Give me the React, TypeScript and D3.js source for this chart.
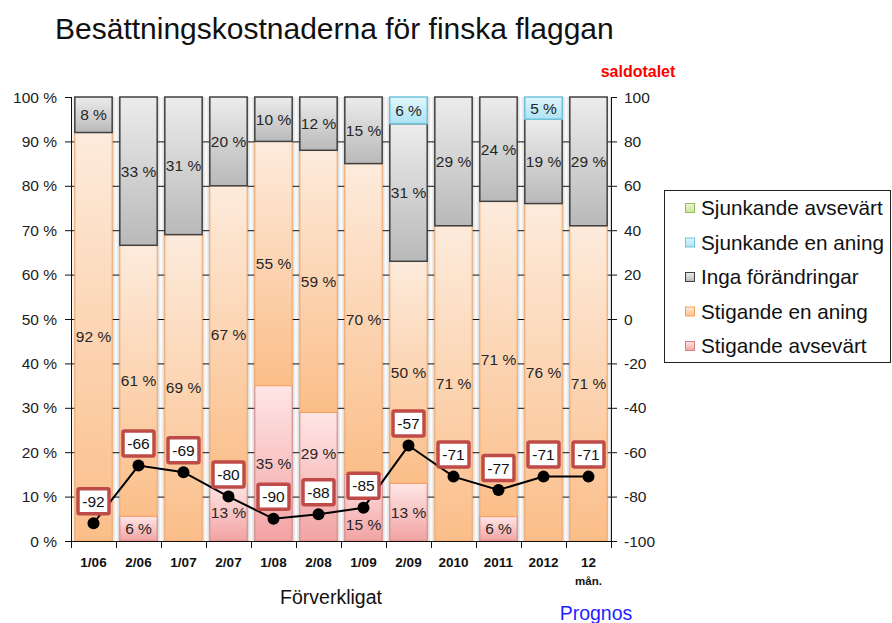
import { useEffect, useRef } from 'react';
import * as d3 from 'd3';

const categories = ['1/06', '2/06', '1/07', '2/07', '1/08', '2/08', '1/09', '2/09', '2010', '2011', '2012', '12 mån.'];
// stacked shares (%), bottom to top
const stigandeAvsevart = [0, 5.6, 0, 13, 35, 29, 15, 13, 0, 5.5, 0, 0];
const stigandeEnAning = [92, 61, 69, 67, 55, 59, 70, 50, 71, 71, 76, 71];
const ingaForandringar = [8, 33.4, 31, 20, 10, 12, 15, 31, 29, 23.5, 19, 29];
const sjunkandeEnAning = [0, 0, 0, 0, 0, 0, 0, 6, 0, 0, 5, 0];
const sjunkandeAvsevart = [0, 0, 0, 0, 0, 0, 0, 0, 0, 0, 0, 0];
// balance figure, right axis
const saldotalet = [-92, -66, -69, -80, -90, -88, -85, -57, -71, -77, -71, -71];

const leftTicks = [0, 10, 20, 30, 40, 50, 60, 70, 80, 90, 100];
const rightTicks = [-100, -80, -60, -40, -20, 0, 20, 40, 60, 80, 100];

const series = [
  { key: 'sa', name: 'Stigande avsevärt', values: stigandeAvsevart, top: '#FFE6E6', bottom: '#F2A3A3', stroke: '#D88080', sw: 1 },
  { key: 'se', name: 'Stigande en aning', values: stigandeEnAning, top: '#FDEBDC', bottom: '#FBBE89', stroke: '#F7A35E', sw: 1 },
  { key: 'if', name: 'Inga förändringar', values: ingaForandringar, top: '#ECECEC', bottom: '#B9B9B9', stroke: '#404040', sw: 1.5 },
  { key: 'je', name: 'Sjunkande en aning', values: sjunkandeEnAning, top: '#E2F6FC', bottom: '#ADE3F3', stroke: '#6EC5DD', sw: 1.5 },
  { key: 'ja', name: 'Sjunkande avsevärt', values: sjunkandeAvsevart, top: '#EAF7D4', bottom: '#C7E79B', stroke: '#9BBB59', sw: 1 },
];

const W = 892;
const H = 623;
const FONT = 'Arial, "Liberation Sans", Helvetica, sans-serif';

const App = () => {
  const svgRef = useRef<SVGSVGElement | null>(null);

  useEffect(() => {
    const svg = d3.select(svgRef.current);
    svg.selectAll('*').remove();

    const left = 71, right = 611, top = 97, bottom = 541;

    const x = d3.scaleBand<string>().domain(categories).range([left, right]).paddingInner(0.17).paddingOuter(0.085);
    const y = d3.scaleLinear().domain([0, 100]).range([bottom, top]);
    const y2 = d3.scaleLinear().domain([-100, 100]).range([bottom, top]);
    const bw = x.bandwidth();

    const defs = svg.append('defs');
    series.forEach(s => {
      const g = defs.append('linearGradient').attr('id', `grad-${s.key}`)
        .attr('x1', 0).attr('y1', 0).attr('x2', 0).attr('y2', 1);
      g.append('stop').attr('offset', '0%').attr('stop-color', s.top);
      g.append('stop').attr('offset', '100%').attr('stop-color', s.bottom);
    });
    const gap = defs.append('linearGradient').attr('id', 'gap-grad')
      .attr('x1', 0).attr('y1', 0).attr('x2', 1).attr('y2', 0);
    gap.append('stop').attr('offset', '0%').attr('stop-color', '#cfcfcf');
    gap.append('stop').attr('offset', '50%').attr('stop-color', '#ffffff');
    gap.append('stop').attr('offset', '100%').attr('stop-color', '#cfcfcf');

    // title
    svg.append('text')
      .attr('x', 55).attr('y', 39)
      .attr('font-family', FONT).attr('font-size', 30)
      .attr('fill', '#111')
      .text('Besättningskostnaderna för finska flaggan');

    svg.append('text')
      .attr('x', 638).attr('y', 77)
      .attr('text-anchor', 'middle')
      .attr('font-family', FONT).attr('font-size', 16).attr('font-weight', 'bold')
      .attr('fill', '#FF0000')
      .text('saldotalet');

    // shaded gaps between bars
    const gapRects: [number, number][] = [];
    gapRects.push([left, x(categories[0])!]);
    for (let i = 1; i < categories.length; i++) {
      gapRects.push([x(categories[i - 1])! + bw, x(categories[i])!]);
    }
    gapRects.push([x(categories[categories.length - 1])! + bw, right]);
    svg.append('g').selectAll('rect').data(gapRects).enter().append('rect')
      .attr('x', d => d[0]).attr('y', top).attr('width', d => d[1] - d[0]).attr('height', bottom - top)
      .attr('fill', 'url(#gap-grad)');

    // gridlines
    svg.append('g').selectAll('line').data(leftTicks.filter(t => t > 0 && t < 100)).enter().append('line')
      .attr('x1', left).attr('x2', right)
      .attr('y1', d => y(d) + 0.5).attr('y2', d => y(d) + 0.5)
      .attr('stroke', '#111').attr('stroke-width', 1);

    // stacked bars
    const table = categories.map((c, i) => {
      const row: Record<string, any> = { cat: c };
      series.forEach(s => { row[s.key] = s.values[i]; });
      return row;
    });
    const stack = d3.stack<Record<string, any>>().keys(series.map(s => s.key));
    const stacked = stack(table);

    stacked.forEach((layer, li) => {
      const s = series[li];
      const g = svg.append('g');
      layer.forEach((d, i) => {
        const v = d[1] - d[0];
        if (v <= 0) return;
        g.append('rect')
          .attr('x', x(categories[i])!)
          .attr('y', y(d[1]))
          .attr('width', bw)
          .attr('height', y(d[0]) - y(d[1]))
          .attr('fill', `url(#grad-${s.key})`)
          .attr('stroke', s.stroke)
          .attr('stroke-width', s.sw);
      });
    });

    // saldo label boxes (vertical extents) used to keep segment labels clear
    const boxH = 25;
    const boxCy = saldotalet.map(v => y2(v) - 22);

    // segment labels
    stacked.forEach(layer => {
      layer.forEach((d, i) => {
        const v = d[1] - d[0];
        if (v <= 0) return;
        const segTop = y(d[1]);
        const segBot = y(d[0]);
        let ly = (segTop + segBot) / 2;
        const bTop = boxCy[i] - boxH / 2 - 2;
        const bBot = boxCy[i] + boxH / 2 + 2;
        if (ly + 8 > bTop && ly - 8 < bBot) {
          if (bTop - segTop > 24) ly = (segTop + bTop) / 2 + 8;
          else ly = (bBot + segBot) / 2 + 4;
        }
        svg.append('text')
          .attr('x', x(categories[i])! + bw / 2)
          .attr('y', ly)
          .attr('dy', '0.36em')
          .attr('text-anchor', 'middle')
          .attr('font-family', FONT).attr('font-size', 15.5)
          .attr('fill', '#262626')
          .text(`${Math.round(v)} %`);
      });
    });

    // left axis
    const la = svg.append('g');
    la.append('line').attr('x1', left + 0.5).attr('x2', left + 0.5).attr('y1', top).attr('y2', bottom).attr('stroke', '#111');
    leftTicks.forEach(t => {
      la.append('line').attr('x1', left - 6).attr('x2', left).attr('y1', y(t) + 0.5).attr('y2', y(t) + 0.5).attr('stroke', '#111');
      la.append('text')
        .attr('x', 57).attr('y', y(t)).attr('dy', '0.36em')
        .attr('text-anchor', 'end')
        .attr('font-family', FONT).attr('font-size', 15.5).attr('fill', '#222')
        .text(`${t} %`);
    });

    // right axis
    const ra = svg.append('g');
    ra.append('line').attr('x1', right + 0.5).attr('x2', right + 0.5).attr('y1', top).attr('y2', bottom).attr('stroke', '#111');
    rightTicks.forEach(t => {
      ra.append('line').attr('x1', right).attr('x2', right + 6).attr('y1', y2(t) + 0.5).attr('y2', y2(t) + 0.5).attr('stroke', '#111');
      ra.append('text')
        .attr('x', 624).attr('y', y2(t)).attr('dy', '0.36em')
        .attr('font-family', FONT).attr('font-size', 15.5).attr('fill', '#222')
        .text(t);
    });

    // bottom axis
    const ba = svg.append('g');
    ba.append('line').attr('x1', left).attr('x2', right + 1).attr('y1', bottom + 0.5).attr('y2', bottom + 0.5).attr('stroke', '#111');
    const step = x.step();
    d3.range(categories.length + 1).forEach(k => {
      const xx = Math.round(left + k * step) + 0.5;
      ba.append('line').attr('x1', xx).attr('x2', xx).attr('y1', bottom).attr('y2', bottom + 7).attr('stroke', '#111');
    });
    categories.forEach(c => {
      const parts = c.split(' ');
      const cx = x(c)! + bw / 2;
      ba.append('text')
        .attr('x', cx).attr('y', 567)
        .attr('text-anchor', 'middle')
        .attr('font-family', FONT).attr('font-size', 13.5).attr('font-weight', 'bold').attr('fill', '#111')
        .text(parts[0]);
      if (parts[1]) {
        ba.append('text')
          .attr('x', cx).attr('y', 585)
          .attr('text-anchor', 'middle')
          .attr('font-family', FONT).attr('font-size', 11.5).attr('font-weight', 'bold').attr('fill', '#111')
          .text(parts[1]);
      }
    });

    svg.append('text')
      .attr('x', 331).attr('y', 604)
      .attr('text-anchor', 'middle')
      .attr('font-family', FONT).attr('font-size', 19.5).attr('fill', '#111')
      .text('Förverkligat');
    svg.append('text')
      .attr('x', 596).attr('y', 620)
      .attr('text-anchor', 'middle')
      .attr('font-family', FONT).attr('font-size', 19.5).attr('fill', '#1F1FFF')
      .text('Prognos');

    // saldotalet line
    const pts = saldotalet.map((v, i) => [x(categories[i])! + bw / 2, y2(v)] as [number, number]);
    svg.append('path')
      .attr('d', d3.line()(pts)!)
      .attr('fill', 'none').attr('stroke', '#000').attr('stroke-width', 2);
    svg.append('g').selectAll('circle').data(pts).enter().append('circle')
      .attr('cx', d => d[0]).attr('cy', d => d[1]).attr('r', 6).attr('fill', '#000');

    const lab = svg.append('g');
    saldotalet.forEach((v, i) => {
      const [px] = pts[i];
      const cy = boxCy[i];
      lab.append('rect')
        .attr('x', px - 15.5).attr('y', cy - boxH / 2).attr('width', 31).attr('height', boxH)
        .attr('rx', 1.5)
        .attr('fill', '#fff').attr('stroke', '#BE4B48').attr('stroke-width', 3.5);
      lab.append('text')
        .attr('x', px).attr('y', cy).attr('dy', '0.36em')
        .attr('text-anchor', 'middle')
        .attr('font-family', FONT).attr('font-size', 15.5).attr('fill', '#111')
        .text(v);
    });

    // legend
    const lg = svg.append('g');
    lg.append('rect').attr('x', 664.5).attr('y', 190.5).attr('width', 226).attr('height', 172)
      .attr('fill', '#fff').attr('stroke', '#222').attr('stroke-width', 1);
    const legendItems = series.slice().reverse();
    legendItems.forEach((s, i) => {
      const cy = 208 + i * 34.5;
      lg.append('rect')
        .attr('x', 685.5).attr('y', cy - 4.5).attr('width', 9).attr('height', 9)
        .attr('fill', `url(#grad-${s.key})`).attr('stroke', s.stroke).attr('stroke-width', 1);
      lg.append('text')
        .attr('x', 701).attr('y', cy).attr('dy', '0.36em')
        .attr('font-family', FONT).attr('font-size', 20.7).attr('fill', '#111')
        .text(s.name);
    });
  }, []);

  return (
    <div>
      <svg ref={svgRef} width={W} height={H} style={{ position: 'absolute', left: 0, top: 0, background: '#fff' }} />
    </div>
  );
};

export default App;
